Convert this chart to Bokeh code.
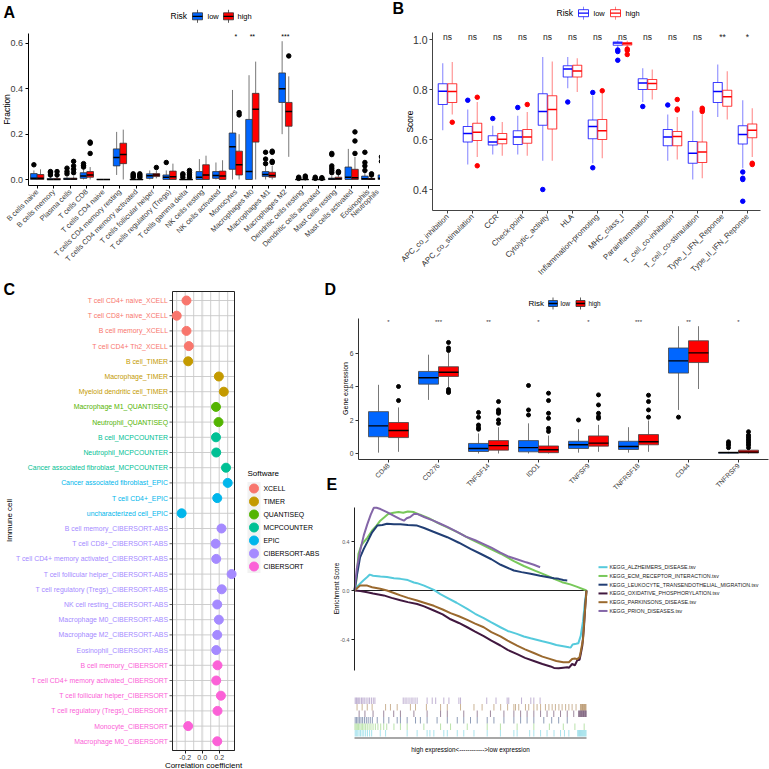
import math
from bokeh.plotting import figure
from bokeh.models import Range1d, FixedTicker, PrintfTickFormatter, LinearAxis
from bokeh.layouts import row, column
from bokeh.embed import file_html
from bokeh.resources import INLINE
from bokeh.core.properties import value

S = 1.0
def P(v): return int(round(v * S))
def F(v): return f"{v * S:.2f}px"
FONT = "Liberation Sans"
TXT = "#3A3A3A"
LOW_FILL, HIGH_FILL = "#0066FF", "#FF0000"

# ---------------- Panel A data (CIBERSORT fractions) ----------------
A_cats = ["B cells naive", "B cells memory", "Plasma cells", "T cells CD8", "T cells CD4 naive",
          "T cells CD4 memory resting", "T cells CD4 memory activated", "T cells follicular helper",
          "T cells regulatory (Tregs)", "T cells gamma delta", "NK cells resting", "NK cells activated",
          "Monocytes", "Macrophages M0", "Macrophages M1", "Macrophages M2", "Dendritic cells resting",
          "Dendritic cells activated", "Mast cells resting", "Mast cells activated", "Eosinophils", "Neutrophils"]
A_low_lo  = [0, 0, 0, 0, 0, 0.02, 0, 0, 0, 0, 0, 0, 0, 0, 0, 0.2, 0, 0, 0, 0, 0, 0]
A_low_q1  = [0, 0, 0, 0.005, 0, 0.06, 0, 0.005, 0, 0, 0, 0.005, 0.045, 0, 0.013, 0.34, 0, 0, 0, 0, 0, 0]
A_low_med = [0.005, 0, 0.002, 0.015, 0, 0.097, 0, 0.016, 0.01, 0, 0.01, 0.018, 0.145, 0.035, 0.022, 0.4, 0, 0, 0.002, 0.01, 0.003, 0.005]
A_low_q3  = [0.026, 0.004, 0.006, 0.03, 0, 0.135, 0, 0.025, 0.02, 0, 0.035, 0.035, 0.205, 0.265, 0.035, 0.47, 0, 0, 0.006, 0.055, 0.015, 0.02]
A_low_hi  = [0.04, 0.01, 0.012, 0.045, 0, 0.21, 0, 0.04, 0.04, 0, 0.09, 0.075, 0.395, 0.46, 0.06, 0.61, 0, 0, 0.015, 0.135, 0.03, 0.04]
A_low_out = [[0.065], [0.02, 0.03, 0.035], [0.025, 0.035, 0.05], [0.055, 0.062, 0.07], [], [],
             [0.01, 0.015, 0.02, 0.025], [], [0.075], [0.01, 0.02, 0.025], [], [], [], [],
             [0.07, 0.09, 0.12], [], [0.005, 0.01], [0.005, 0.01], [0.03, 0.04, 0.05, 0.06, 0.11, 0.115],
             [], [0.04, 0.06, 0.075, 0.12], [0.08, 0.1]]
A_high_lo  = [0, 0, 0, 0, 0, 0, 0, 0.005, 0, 0, 0, 0, 0, 0, 0, 0.1, 0, 0, 0, 0, 0, 0]
A_high_q1  = [0, 0, 0, 0.01, 0, 0.07, 0, 0.013, 0, 0, 0, 0, 0.02, 0.165, 0.01, 0.235, 0, 0, 0, 0, 0, 0]
A_high_med = [0.005, 0, 0.002, 0.02, 0, 0.11, 0, 0.02, 0.012, 0, 0.02, 0.015, 0.065, 0.31, 0.018, 0.3, 0, 0, 0.003, 0.008, 0.002, 0.003]
A_high_q3  = [0.022, 0.004, 0.006, 0.035, 0, 0.16, 0, 0.026, 0.037, 0, 0.065, 0.037, 0.125, 0.38, 0.032, 0.34, 0, 0, 0.01, 0.045, 0.005, 0.012]
A_high_hi  = [0.045, 0.01, 0.014, 0.055, 0, 0.22, 0, 0.04, 0.07, 0, 0.105, 0.085, 0.2, 0.52, 0.06, 0.455, 0, 0, 0.025, 0.1, 0.012, 0.025]
A_high_out = [[], [0.02, 0.035], [0.03, 0.045, 0.06, 0.08], [0.115, 0.16, 0.165], [], [],
              [0.01, 0.015, 0.02, 0.025], [0.053], [], [0.01, 0.02, 0.03, 0.04], [], [], [0.285, 0.295], [],
              [0.075, 0.08, 0.12, 0.125], [0.545], [0.008, 0.015], [0.005, 0.008], [0.03, 0.035],
              [0.115, 0.17, 0.21], [0.02, 0.025], [0.04]]
A_sig_pos = [13, 14, 16]
A_sig_lab = ["*", "**", "***"]
A_sig_y = 0.632
A_yticks = [0.0, 0.2, 0.4, 0.6]

# ---------------- Panel B data (immune function scores) ----------------
B_cats = ["APC_co_inhibition", "APC_co_stimulation", "CCR", "Check-point", "Cytolytic_activity", "HLA",
          "Inflammation-promoting", "MHC_class_I", "Parainflammation", "T_cell_co-inhibition",
          "T_cell_co-stimulation", "Type_I_IFN_Reponse", "Type_II_IFN_Reponse"]
B_low_lo  = [0.637, 0.50, 0.54, 0.54, 0.515, 0.805, 0.505, 0.965, 0.75, 0.515, 0.44, 0.69, 0.485]
B_low_q1  = [0.74, 0.59, 0.578, 0.58, 0.657, 0.85, 0.603, 0.977, 0.80, 0.575, 0.505, 0.748, 0.582]
B_low_med = [0.793, 0.624, 0.59, 0.61, 0.712, 0.882, 0.652, 0.986, 0.826, 0.61, 0.545, 0.792, 0.62]
B_low_q3  = [0.823, 0.652, 0.615, 0.635, 0.783, 0.895, 0.678, 0.99, 0.843, 0.64, 0.592, 0.828, 0.655]
B_low_hi  = [0.905, 0.72, 0.655, 0.695, 0.93, 0.93, 0.775, 0.996, 0.885, 0.70, 0.715, 0.90, 0.757]
B_low_out = [[], [0.757], [0.684], [0.728], [0.40], [0.75], [0.788, 0.487], [0.958, 0.952, 0.917],
             [0.732], [0.738], [], [], [0.47, 0.445, 0.44, 0.353]]
B_high_lo  = [0.70, 0.53, 0.535, 0.535, 0.515, 0.79, 0.525, 0.966, 0.76, 0.52, 0.445, 0.68, 0.53]
B_high_q1  = [0.748, 0.596, 0.583, 0.585, 0.642, 0.85, 0.60, 0.978, 0.80, 0.575, 0.508, 0.733, 0.607]
B_high_med = [0.792, 0.629, 0.601, 0.61, 0.72, 0.874, 0.635, 0.983, 0.824, 0.612, 0.55, 0.771, 0.637]
B_high_q3  = [0.823, 0.665, 0.624, 0.64, 0.775, 0.897, 0.68, 0.988, 0.84, 0.632, 0.59, 0.797, 0.662]
B_high_hi  = [0.91, 0.75, 0.67, 0.71, 0.912, 0.925, 0.79, 0.995, 0.88, 0.69, 0.70, 0.873, 0.725]
B_high_out = [[0.669], [0.769, 0.495], [], [0.74], [], [], [0.795], [0.962, 0.956, 0.94], [],
              [0.718, 0.722, 0.76], [0.712, 0.718, 0.725], [], [0.505, 0.50]]
B_sig_lab = ["ns"] * 11 + ["**", "*"]
B_sig_y = 1.009
B_yticks = [0.4, 0.6, 0.8, 1.0]

# ---------------- Panel C data (correlations) ----------------
C_cells = ["T cell CD4+ naive_XCELL", "T cell CD8+ naive_XCELL", "B cell memory_XCELL", "T cell CD4+ Th2_XCELL",
           "B cell_TIMER", "Macrophage_TIMER", "Myeloid dendritic cell_TIMER", "Macrophage M1_QUANTISEQ",
           "Neutrophil_QUANTISEQ", "B cell_MCPCOUNTER", "Neutrophil_MCPCOUNTER",
           "Cancer associated fibroblast_MCPCOUNTER", "Cancer associated fibroblast_EPIC", "T cell CD4+_EPIC",
           "uncharacterized cell_EPIC", "B cell memory_CIBERSORT-ABS", "T cell CD8+_CIBERSORT-ABS",
           "T cell CD4+ memory activated_CIBERSORT-ABS", "T cell follicular helper_CIBERSORT-ABS",
           "T cell regulatory (Tregs)_CIBERSORT-ABS", "NK cell resting_CIBERSORT-ABS",
           "Macrophage M0_CIBERSORT-ABS", "Macrophage M2_CIBERSORT-ABS", "Eosinophil_CIBERSORT-ABS",
           "B cell memory_CIBERSORT", "T cell CD4+ memory activated_CIBERSORT",
           "T cell follicular helper_CIBERSORT", "T cell regulatory (Tregs)_CIBERSORT",
           "Monocyte_CIBERSORT", "Macrophage M0_CIBERSORT"]
C_soft = ["XCELL"] * 4 + ["TIMER"] * 3 + ["QUANTISEQ"] * 2 + ["MCPCOUNTER"] * 3 + ["EPIC"] * 3 + \
         ["CIBERSORT-ABS"] * 9 + ["CIBERSORT"] * 6
C_corr = [-0.185, -0.30, -0.185, -0.158, -0.165, 0.196, 0.254, 0.162, 0.192, 0.162, 0.165, 0.28, 0.30,
          0.177, -0.242, 0.227, 0.158, 0.165, 0.346, 0.23, 0.177, 0.196, 0.177, 0.165, 0.18, 0.165, 0.22,
          0.18, -0.165, 0.177]
C_soft_names = ["XCELL", "TIMER", "QUANTISEQ", "MCPCOUNTER", "EPIC", "CIBERSORT-ABS", "CIBERSORT"]
C_soft_cols = ["#F8766D", "#C49A00", "#53B400", "#00C094", "#00B6EB", "#A58AFF", "#FB61D7"]
C_xticks = [-0.2, 0.0, 0.2]
C_grid = [-0.3, -0.2, -0.1, 0.0, 0.1, 0.2, 0.3]

# ---------------- Panel D data (checkpoint gene expression) ----------------
D_cats = ["CD48", "CD276", "TNFSF14", "IDO1", "TNFSF9", "TNFRSF18", "CD44", "TNFRSF9"]
D_low_lo  = [0.05, 3.2, 0, 0, 0.05, 0.05, 2.6, 0]
D_low_q1  = [1.0, 4.14, 0.12, 0.1, 0.3, 0.24, 4.8, 0.02]
D_low_med = [1.65, 4.52, 0.3, 0.35, 0.52, 0.42, 5.53, 0.05]
D_low_q3  = [2.5, 4.9, 0.6, 0.77, 0.73, 0.73, 6.3, 0.08]
D_low_hi  = [4.1, 5.9, 1.2, 1.8, 1.45, 1.57, 7.6, 0.1]
D_low_out = [[], [], [1.45, 1.55, 1.7, 2.16, 2.45], [2.3, 2.6, 4.06], [2.0], [], [2.17], [0.35, 0.5, 0.6, 0.7]]
D_high_lo  = [0.1, 3.95, 0, 0, 0.1, 0.1, 3.85, 0]
D_high_q1  = [0.95, 4.6, 0.2, 0.05, 0.44, 0.52, 5.43, 0.03]
D_high_med = [1.37, 4.85, 0.47, 0.22, 0.62, 0.7, 6.01, 0.08]
D_high_q3  = [1.85, 5.18, 0.77, 0.45, 1.05, 1.13, 6.73, 0.2]
D_high_hi  = [2.75, 6.0, 1.57, 1.07, 1.71, 1.97, 7.6, 0.3]
D_high_out = [[3.16, 4.0], [6.63, 6.3, 6.15, 3.82, 3.7, 3.64], [1.8, 2.0, 2.4, 2.5, 2.6, 3.1],
              [1.32, 1.5, 2.1, 2.4, 3.16, 3.6], [2.1, 2.2, 2.4, 2.9, 3.5], [2.17, 2.6, 3.1, 3.48], [],
              [0.35, 0.5, 0.6, 0.7, 0.8, 0.9, 1.0, 1.1, 1.3]]
D_sig_lab = ["*", "***", "**", "*", "*", "***", "**", "*"]
D_sig_y = 7.84
D_yticks = [0, 2, 4, 6]

# ---------------- Panel E data (GSEA running enrichment scores) ----------------
E_names = ["KEGG_ALZHEIMERS_DISEASE.tsv", "KEGG_ECM_RECEPTOR_INTERACTION.tsv",
           "KEGG_LEUKOCYTE_TRANSENDOTHELIAL_MIGRATION.tsv", "KEGG_OXIDATIVE_PHOSPHORYLATION.tsv",
           "KEGG_PARKINSONS_DISEASE.tsv", "KEGG_PRION_DISEASES.tsv"]
E_cols = ["#55CADC", "#78C85A", "#213E74", "#41183F", "#9A692E", "#8466A8"]
E_alz_x = [0, 1.5, 3.8, 5.5, 6.6, 8, 11.2, 14, 17, 19.8, 23, 25.6, 27, 30, 34.2, 37, 40, 44, 48.6, 52, 55.7,
           59, 62.9, 66, 70, 73, 75.9, 78, 81, 84.5, 87, 90, 92.4, 93.2, 94, 95.5, 96.5, 97.5, 98.5, 99.4, 100]
E_alz_y = [0, 0.04, 0.082, 0.11, 0.13, 0.12, 0.114, 0.11, 0.1, 0.095, 0.085, 0.065, 0.06, 0.04, 0.005, -0.03,
           -0.06, -0.1, -0.15, -0.19, -0.225, -0.26, -0.3, -0.33, -0.354, -0.375, -0.39, -0.4, -0.415, -0.43,
           -0.445, -0.455, -0.463, -0.465, -0.44, -0.435, -0.43, -0.37, -0.25, -0.08, 0]
E_ecm_x = [0, 0.8, 1.7, 3, 4.2, 5.5, 7.6, 9.5, 11.1, 13, 14.5, 16.8, 19, 21, 23, 25.6, 28, 32, 36, 40, 45, 50,
           54.3, 59, 63, 68.7, 73, 78, 83, 86, 89.5, 93, 96, 100]
E_ecm_y = [0, 0.08, 0.3, 0.37, 0.4, 0.43, 0.49, 0.53, 0.57, 0.6, 0.625, 0.635, 0.64, 0.635, 0.645, 0.64, 0.62,
           0.59, 0.55, 0.515, 0.47, 0.42, 0.38, 0.335, 0.3, 0.24, 0.2, 0.16, 0.122, 0.095, 0.068, 0.05, 0.03, 0.0]
E_leuk_x = [0, 1, 2.4, 4, 5.5, 7.6, 9.8, 12, 14, 17, 19.8, 23, 27, 30, 34, 40, 45, 50, 54.3, 59, 63, 68.7, 72,
            75.9, 80, 83, 86, 88, 90, 91.7]
E_leuk_y = [0, 0.12, 0.27, 0.34, 0.395, 0.475, 0.53, 0.535, 0.545, 0.54, 0.54, 0.535, 0.53, 0.51, 0.48, 0.435,
            0.39, 0.34, 0.3, 0.255, 0.21, 0.163, 0.15, 0.136, 0.12, 0.11, 0.1, 0.095, 0.085, 0.082]
E_oxid_x = [0, 2.5, 5.5, 8, 12.6, 16, 19.8, 23, 27, 30, 34.2, 38, 41.4, 45, 48.6, 52, 55.7, 59, 62.9, 66, 70.1,
            73.5, 77.3, 81, 84.5, 86, 88, 90, 91.7, 92.5, 93.8, 95, 96, 97, 97.5, 98.2, 98.9, 99.5, 100]
E_oxid_y = [0, -0.005, -0.014, -0.025, -0.04, -0.06, -0.08, -0.095, -0.11, -0.13, -0.163, -0.195, -0.235, -0.265,
            -0.3, -0.335, -0.373, -0.41, -0.449, -0.485, -0.52, -0.55, -0.575, -0.6, -0.62, -0.632, -0.635, -0.63,
            -0.627, -0.63, -0.6, -0.61, -0.57, -0.565, -0.52, -0.45, -0.3, -0.12, 0]
E_park_x = [0, 2.4, 5.5, 7.6, 11.1, 14, 17, 19.8, 23, 27, 30, 34.2, 38, 41.4, 45, 48.6, 52, 55.7, 59, 62.9, 66,
            70.1, 73.5, 77.3, 81, 84.5, 87, 90, 92.4, 93.8, 95, 96, 97, 97.5, 98.5, 99.1, 99.6, 100]
E_park_y = [0, 0.04, 0.04, 0.027, 0.015, 0.0, -0.02, -0.04, -0.06, -0.082, -0.1, -0.125, -0.155, -0.185, -0.21,
            -0.24, -0.27, -0.3, -0.34, -0.375, -0.41, -0.45, -0.48, -0.51, -0.54, -0.56, -0.575, -0.585, -0.585,
            -0.56, -0.555, -0.56, -0.545, -0.5, -0.4, -0.22, -0.1, 0]
E_prion_x = [0, 1, 2.5, 4, 5.5, 7, 8.3, 9.5, 11.2, 14, 17, 19.5, 21.3, 22.5, 24, 25.6, 27, 30, 34, 37, 40, 44,
             48, 52, 55, 59, 62.9, 66, 70, 74, 77.3, 80]
E_prion_y = [0, 0.18, 0.33, 0.45, 0.54, 0.62, 0.675, 0.675, 0.665, 0.64, 0.61, 0.585, 0.57, 0.59, 0.6, 0.625,
             0.625, 0.6, 0.57, 0.545, 0.52, 0.48, 0.44, 0.41, 0.385, 0.35, 0.31, 0.28, 0.255, 0.23, 0.21, 0.19]
E_rug_prion = [0.3, 0.8, 1.2, 1.8, 2.3, 3.0, 3.6, 4.2, 5.0, 5.8, 6.5, 7.3, 8.1, 8.8, 21.0, 21.8, 22.6, 23.5, 24.4,
               25.2, 26.1, 27.0, 31.3, 33.5, 35.0, 38.5, 40.7, 45.0, 45.7, 57.0, 61.0, 65.8, 66.5, 72.0, 76.0,
               77.3, 80.0]
E_rug_park = [1.1, 3.3, 5.5, 7.6, 13.4, 15.5, 18.4, 24.1, 26.3, 31, 37.1, 40, 45.7, 51.5, 55, 60.1, 63, 66,
              68.7, 69.4, 70.8, 73.7, 75.1, 77.3, 78.7, 80.2, 82.3, 83.8, 85.2, 86.6, 88.1, 89.5, 91, 92.4, 93.8,
              95.5, 97.4, 97.7, 98.0, 98.3, 98.6, 98.9, 99.2, 99.5, 99.8]
E_rug_oxid = [2.0, 4.5, 8.0, 12.6, 16.9, 19.8, 25.6, 31.3, 37.1, 40, 47.1, 52.9, 58.6, 64.4, 68.7, 71.6, 74.4,
              77.3, 80.2, 83, 85.9, 88.8, 91.7, 94.5, 96.6, 96.9, 97.2, 97.5, 97.8, 98.1, 98.4, 98.7, 99.0, 99.3,
              99.6, 99.9]
E_rug_leuk = [0.3, 0.9, 1.5, 2.1, 2.8, 3.5, 4.3, 5.1, 5.9, 6.8, 7.7, 9.8, 12.6, 14.8, 18.4, 19.8, 22.7, 26.3,
              28.4, 31.3, 35.6, 40, 44.3, 47.1, 50, 52.9, 57.2, 60.1, 64.4, 68.7, 71.6, 74.4, 77.3, 81.6, 85, 88,
              91.7]
E_rug_ecm = [0.2, 0.7, 1.2, 1.7, 2.3, 2.9, 3.5, 4.1, 4.8, 5.5, 6.3, 7.1, 8.0, 9.0, 10.1, 11.3, 12.6, 13.9, 17,
             19.8, 22.7, 29.9, 37.1, 41.4, 48.6, 57.2, 62.9, 70.1, 77.3, 84, 90, 95, 99]
E_rug_alz = [0.3, 0.8, 1.4, 2.0, 2.6, 3.3, 4.0, 4.8, 5.6, 6.5, 7.4, 11.1, 13.4, 22.7, 27, 31.3, 32.5, 34.2, 38.5,
             40, 44.3, 47.1, 51.5, 57.2, 62.9, 68.7, 70.1, 75.5, 77.3, 80.2, 83, 86, 88.8, 90.5, 92.4, 96.2, 96.6,
             97.0, 97.4, 97.8, 98.2, 98.6, 99.0, 99.4, 99.8]
E_rank_max = 100
E_yticks = [-0.4, 0.0, 0.4]


# ---------------- helpers ----------------
def new_fig(w, h, xr, yr):
    p = figure(width=P(w), height=P(h), x_range=Range1d(*xr), y_range=Range1d(*yr),
               output_backend="svg", toolbar_location=None, x_axis_location=None, y_axis_location=None,
               min_border=0, min_border_left=0, min_border_right=0, min_border_top=0, min_border_bottom=0)
    p.grid.visible = False
    p.outline_line_color = None
    p.background_fill_color = "white"
    p.border_fill_color = "white"
    return p


def add_axis(p, side, loc, ticks, fs, bounds, fmt="%.1f", labels=None, orient=None, color=TXT,
             line="black", standoff=2):
    ax = LinearAxis(fixed_location=loc)
    ax.ticker = FixedTicker(ticks=ticks)
    if labels is not None:
        ax.major_label_overrides = {t: s for t, s in zip(ticks, labels)}
    else:
        ax.formatter = PrintfTickFormatter(format=fmt)
    if orient is not None:
        ax.major_label_orientation = orient
    ax.bounds = bounds
    ax.axis_line_color = line
    ax.axis_line_width = 1
    ax.major_tick_line_color = line
    ax.major_tick_out = 3
    ax.major_tick_in = 0
    ax.minor_tick_line_color = None
    ax.major_label_text_font = FONT
    ax.major_label_text_font_size = F(fs)
    ax.major_label_text_color = color
    ax.major_label_standoff = standoff
    p.add_layout(ax, side)
    return ax


def txt(p, x, y, s, size, color="black", align="left", baseline="middle", angle=0.0, bold=False):
    p.text(x=[x], y=[y], text=[s], text_font=value(FONT), text_font_size=F(size), text_color=color,
           text_align=align, text_baseline=baseline, angle=angle,
           text_font_style="bold" if bold else "normal")


def boxes(p, xs, lo, q1, med, q3, hi, outs, w, fill, line, wcol, mcol, ocol, lw=0.8, mw=1.6, osize=4.0,
          la=1.0, wa=1.0):
    p.segment(x0=xs, y0=q3, x1=xs, y1=hi, line_color=wcol, line_width=lw, line_alpha=wa)
    p.segment(x0=xs, y0=lo, x1=xs, y1=q1, line_color=wcol, line_width=lw, line_alpha=wa)
    p.vbar(x=xs, width=w, bottom=q1, top=q3, fill_color=fill, line_color=line, line_width=lw, line_alpha=la)
    p.segment(x0=[x - w / 2 for x in xs], y0=med, x1=[x + w / 2 for x in xs], y1=med,
              line_color=mcol, line_width=mw)
    ox = [x for x, o in zip(xs, outs) for _ in o]
    oy = [v for o in outs for v in o]
    p.scatter(ox, oy, size=osize * S, color=ocol)


def legend_icon(p, cx, cy, fx, fy, w, h, fill, line, wcol, mcol):
    p.segment(x0=[fx(cx)], y0=[fy(cy - h / 2 - 3)], x1=[fx(cx)], y1=[fy(cy + h / 2 + 3)],
              line_color=wcol, line_width=0.8)
    p.quad(left=[fx(cx - w / 2)], right=[fx(cx + w / 2)], bottom=[fy(cy + h / 2)], top=[fy(cy - h / 2)],
           fill_color=fill, line_color=line, line_width=0.8)
    p.segment(x0=[fx(cx - w / 2)], y0=[fy(cy)], x1=[fx(cx + w / 2)], y1=[fy(cy)], line_color=mcol, line_width=1.3)


ROW1 = 280  # boundary between top and bottom rows (reference px)

# ================= Panel A =================  (figure spans reference px x 0..380, y 0..ROW1)
def ax_(px): return 1 + (px - 36.7) / 16.55
def ay_(py): return (179 - py) / 226.7

pA = new_fig(380, ROW1, (ax_(0), ax_(380)), (ay_(ROW1), ay_(0)))
nA = len(A_cats)
posA = list(range(1, nA + 1))
boxes(pA, [i - 0.2 for i in posA], A_low_lo, A_low_q1, A_low_med, A_low_q3, A_low_hi, A_low_out, 0.4,
      LOW_FILL, "#333333", "#555555", "black", "black", mw=1.5, osize=4.5)
boxes(pA, [i + 0.2 for i in posA], A_high_lo, A_high_q1, A_high_med, A_high_q3, A_high_hi, A_high_out, 0.4,
      HIGH_FILL, "#333333", "#555555", "black", "black", mw=1.5, osize=4.5)
pA.text(x=A_sig_pos, y=[A_sig_y] * len(A_sig_pos), text=A_sig_lab, text_font=value(FONT),
        text_font_size=F(7), text_align="center", text_baseline="middle", text_color="black")
add_axis(pA, "below", ay_(185), posA[:-1], 7.4, (ax_(27.5), ax_(380)), labels=A_cats[:-1], orient=math.pi / 4)
add_axis(pA, "left", ax_(27.5), A_yticks, 9, (ay_(185), ay_(33)))
# last category's tick sits just beyond the panel edge: its label is nudged inside so it stays readable
txt(pA, ax_(377), ay_(190), A_cats[-1], 7.2, color=TXT, align="right", angle=math.pi / 4)
txt(pA, ax_(6), ay_(109), "Fraction", 8.5, angle=math.pi / 2, align="center")
txt(pA, ax_(3), ay_(12), "A", 16, bold=True)
txt(pA, ax_(170), ay_(15.5), "Risk", 8.5)
legend_icon(pA, 197, 15.8, ax_, ay_, 10, 7, LOW_FILL, "#333333", "#333333", "black")
txt(pA, ax_(207), ay_(15.8), "low", 7.5)
legend_icon(pA, 228, 15.8, ax_, ay_, 10, 7, HIGH_FILL, "#333333", "#333333", "black")
txt(pA, ax_(237), ay_(15.8), "high", 7.5)

# ================= Panel B =================  (x 380..769, y 0..ROW1)
def bx_(px): return 1 + (px - 447) / 25.0
def by_(py): return 1.0 - (py - 39) / 250.0

pB = new_fig(389, ROW1, (bx_(380), bx_(769)), (by_(ROW1), by_(0)))
nB = len(B_cats)
posB = list(range(1, nB + 1))
boxes(pB, [i - 0.19 for i in posB], B_low_lo, B_low_q1, B_low_med, B_low_q3, B_low_hi, B_low_out, 0.36,
      "white", "#0000FF", "#0000FF", "#0000FF", "#0000FF", lw=1.1, mw=1.7, osize=4.5, la=0.75, wa=0.45)
boxes(pB, [i + 0.19 for i in posB], B_high_lo, B_high_q1, B_high_med, B_high_q3, B_high_hi, B_high_out, 0.36,
      "white", "#FF0000", "#FF0000", "#FF0000", "#FF0000", lw=1.1, mw=1.7, osize=4.5, la=0.75, wa=0.45)
pB.text(x=posB, y=[B_sig_y] * nB, text=B_sig_lab, text_font=value(FONT), text_font_size=F(8.5),
        text_align="center", text_baseline="middle", text_color="#222222")
add_axis(pB, "below", by_(210), posB, 7.8, (bx_(432), bx_(760)), labels=B_cats, orient=math.pi / 4,
         line="#444444", color="#333333")
add_axis(pB, "left", bx_(432), B_yticks, 10.5, (by_(210), by_(32)), line="#444444", color="#333333")
txt(pB, bx_(409), by_(121), "Score", 8.5, angle=math.pi / 2, align="center")
txt(pB, bx_(392), by_(8), "B", 16, bold=True)
txt(pB, bx_(556), by_(12.7), "Risk", 8.5)
legend_icon(pB, 583, 12.7, bx_, by_, 10, 7, "white", "#0000FF", "#6666FF", "#0000FF")
txt(pB, bx_(593), by_(12.7), "low", 7.5)
legend_icon(pB, 615, 12.7, bx_, by_, 10, 7, "white", "#FF0000", "#FF6666", "#FF0000")
txt(pB, bx_(625), by_(12.7), "high", 7.5)

# ================= Panel C =================  (x 0..321, y ROW1..769)
def cx_(px): return (px - 201.7) / 85.0
def cy_(py): return 1 + (py - 300) / 15.2

pC = new_fig(321, 769 - ROW1, (cx_(0), cx_(321)), (cy_(769), cy_(ROW1)))
nC = len(C_cells)
rowsC = list(range(1, nC + 1))
colC = [C_soft_cols[C_soft_names.index(s)] for s in C_soft]
pC.segment(x0=C_grid, y0=[cy_(291)] * len(C_grid), x1=C_grid, y1=[cy_(750)] * len(C_grid),
           line_color="#C8C8C8", line_width=[0.9, 0.9, 0.9, 2.2, 0.9, 0.9, 0.9],
           line_alpha=[1, 1, 1, 0.55, 1, 1, 1])
pC.segment(x0=[cx_(172)] * nC, y0=rowsC, x1=[cx_(234)] * nC, y1=rowsC, line_color="#C8C8C8", line_width=0.9)
pC.quad(left=[cx_(172)], right=[cx_(234)], bottom=[cy_(750)], top=[cy_(291)], fill_color=None,
        line_color="#222222", line_width=1)
pC.segment(x0=[cx_(169)] * nC, y0=rowsC, x1=[cx_(172)] * nC, y1=rowsC, line_color="#333333", line_width=0.8)
pC.scatter(C_corr, rowsC, size=9 * S, color=colC)
pC.text(x=[cx_(167.5)] * nC, y=rowsC, text=C_cells, text_color=colC, text_font=value(FONT),
        text_font_size=F(6.9), text_align="right", text_baseline="middle")
add_axis(pC, "below", cy_(750), C_xticks, 7, (cx_(172), cx_(234)), line="#222222", standoff=1)
txt(pC, cx_(9), cy_(520), "Immune cell", 8, angle=math.pi / 2, align="center")
txt(pC, cx_(203), cy_(765), "Correlation coefficient", 8, align="center")
txt(pC, cx_(3), cy_(289), "C", 16, bold=True)
txt(pC, cx_(247), cy_(473), "Software", 8)
legY = [488 + 13 * k for k in range(len(C_soft_names))]
pC.rect(x=[cx_(253.5)] * len(legY), y=[cy_(v) for v in legY], width=13 / 85.0, height=13 / 15.2,
        fill_color="#F2F2F2", line_color=None)
pC.scatter(x=[cx_(253.5)] * len(legY), y=[cy_(v) for v in legY], size=9 * S, color=C_soft_cols)
pC.text(x=[cx_(263)] * len(legY), y=[cy_(v) for v in legY], text=C_soft_names, text_font=value(FONT),
        text_font_size=F(6.9), text_align="left", text_baseline="middle", text_color="black")

# ================= Panel D =================  (x 321..769, y ROW1..492)
def dx_(px): return 1 + (px - 388) / 50.0
def dy_(py): return (453 - py) / 16.75

pD = new_fig(448, 492 - ROW1, (dx_(321), dx_(769)), (dy_(492), dy_(ROW1)))
nD = len(D_cats)
posD = list(range(1, nD + 1))
boxes(pD, [i - 0.2 for i in posD], D_low_lo, D_low_q1, D_low_med, D_low_q3, D_low_hi, D_low_out, 0.4,
      LOW_FILL, "#444444", "#555555", "black", "black", mw=1.4, osize=4)
boxes(pD, [i + 0.2 for i in posD], D_high_lo, D_high_q1, D_high_med, D_high_q3, D_high_hi, D_high_out, 0.4,
      HIGH_FILL, "#444444", "#555555", "black", "black", mw=1.4, osize=4)
pD.text(x=posD, y=[D_sig_y] * nD, text=D_sig_lab, text_font=value(FONT), text_font_size=F(6),
        text_align="center", text_baseline="middle", text_color="#333333")
add_axis(pD, "below", dy_(459), posD, 6.8, (dx_(358), dx_(768)), labels=D_cats, orient=math.pi / 4,
         line="#333333")
add_axis(pD, "left", dx_(358), D_yticks, 6.8, (dy_(459), dy_(318)), fmt="%d", line="#333333")
txt(pD, dx_(345), dy_(388), "Gene expression", 7, angle=math.pi / 2, align="center")
txt(pD, dx_(324), dy_(289), "D", 16, bold=True)
txt(pD, dx_(326), dy_(484), "E", 16, bold=True)
txt(pD, dx_(528), dy_(303), "Risk", 8)
legend_icon(pD, 552.5, 303, dx_, dy_, 9, 6, LOW_FILL, "#333333", "#333333", "black")
txt(pD, dx_(560), dy_(303), "low", 6.3)
legend_icon(pD, 580, 303, dx_, dy_, 9, 6, HIGH_FILL, "#333333", "#333333", "black")
txt(pD, dx_(588), dy_(303), "high", 6.3)

# ================= Panel E =================  (x 321..769, y 492..769)
def ex_(px): return (px - 354) / 2.32
def ey_(py): return (590 - py) / 122.5

pE = new_fig(448, 277, (ex_(321), ex_(769)), (ey_(769), ey_(492)))
pE.segment(x0=[0], y0=[0], x1=[E_rank_max], y1=[0], line_color="#222222", line_width=1)
curves = [(E_alz_x, E_alz_y), (E_ecm_x, E_ecm_y), (E_leuk_x, E_leuk_y), (E_oxid_x, E_oxid_y),
          (E_park_x, E_park_y), (E_prion_x, E_prion_y)]
for (cxs, cys), col in zip(curves, E_cols):
    pE.line(cxs, cys, line_color=col, line_width=2.0)
add_axis(pE, "left", ex_(354), E_yticks, 5.3, (ey_(670), ey_(507)), color="#555555", line="#222222")
txt(pE, ex_(336), ey_(588), "Enrichment Score", 6.5, angle=math.pi / 2, align="center")
rugs = [E_rug_prion, E_rug_park, E_rug_oxid, E_rug_leuk, E_rug_ecm, E_rug_alz]
rug_cols = [E_cols[5], E_cols[4], E_cols[3], E_cols[2], E_cols[1], E_cols[0]]
for k, (pos, col) in enumerate(zip(rugs, rug_cols)):
    y0 = ey_(697 + 6.5 * k)
    y1 = ey_(697 + 6.5 * (k + 1))
    pE.segment(x0=pos, y0=[y0] * len(pos), x1=pos, y1=[y1] * len(pos), line_color=col, line_alpha=0.5,
               line_width=1)
pE.quad(left=[0], right=[E_rank_max], top=[ey_(736.5)], bottom=[ey_(738.5)], fill_color="#A8A8A8",
        line_color=None)
txt(pE, ex_(470), ey_(749), "high expression<------------>low expression", 6.3, align="center")
legE = [566.7 + 8.75 * k for k in range(len(E_names))]
pE.segment(x0=[ex_(598)] * len(legE), y0=[ey_(v) for v in legE], x1=[ex_(607)] * len(legE),
           y1=[ey_(v) for v in legE], line_color=E_cols, line_width=2)
pE.text(x=[ex_(609)] * len(legE), y=[ey_(v) for v in legE], text=E_names, text_font=value(FONT),
        text_font_size=F(5.3), text_align="left", text_baseline="middle", text_color="#222222")

layout = column(row(pA, pB), row(pC, column(pD, pE)))
open("out.html", "w").write(file_html(layout, INLINE))
